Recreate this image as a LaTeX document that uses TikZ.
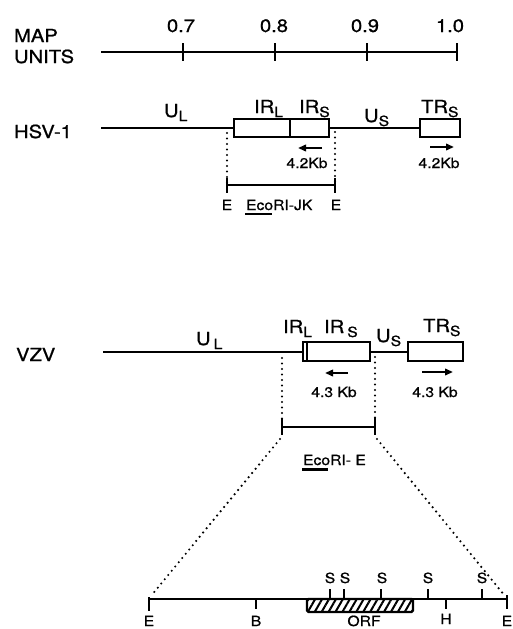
\documentclass[tikz,border=0pt]{standalone}
\usepackage{fontspec}
\setmainfont{TeX Gyre Heros}[FakeStretch=1.12, FakeBold=0.9]
\usetikzlibrary{arrows.meta,patterns.meta}
\newcommand{\lowsub}[1]{\raisebox{-4pt}{\fontsize{14}{14}\selectfont #1}}

\begin{document}
\begin{tikzpicture}[x=1pt, y=-1pt, line width=2.2pt,
    big/.style={font=\fontsize{18}{21}\selectfont, inner sep=0pt, anchor=base west},
    sml/.style={font=\fontsize{14}{16}\selectfont, inner sep=0pt, anchor=base},
    dotrule/.style={line width=2.4pt, dash pattern=on 0pt off 5.5pt, line cap=round},
    kb/.style={-{Triangle[length=8pt,width=6.5pt]}, line width=2.2pt}]
  \useasboundingbox (0,0) rectangle (512,629);

  % Thang map units
  \node[big] (map) at (13,42) {MAP};
  \node[big] (units) at (13,63) {UNITS};
  \coordinate (s0) at (101,52);
  \coordinate (s1) at (457,52);
  \draw (s0) -- (s1);
  \foreach \x/\lx/\v [count=\i] in {183/181/0.7, 275/274/0.8, 367/365/0.9, 457/450/1.0} {
    \draw (\x,43) -- (\x,61);
    \node[big, anchor=base] (tick\i) at (\lx,32) {\v};
  }

  % HSV-1
  \node[big] (hsv) at (13,138) {HSV-1};
  \draw (101,128) -- (234,128);
  \draw (234,119) rectangle (329,137);
  \draw (290,119) -- (290,137);
  \draw (329,128) -- (420,128);
  \draw (420,119) rectangle (460,137);
  \node[big] (hUL) at (163,117) {U\lowsub{L}};
  \node[big] (hIRL) at (253,113) {IR\lowsub{L}};
  \node[big] (hIRS) at (298,113) {IR\lowsub{S}};
  \node[big] (hUS) at (363,122) {U\lowsub{S}};
  \node[big] (hTRS) at (420,113) {TR\lowsub{S}};
  \draw[kb] (322,148) -- (298,148);
  \draw[kb] (430,147) -- (454,147);
  \node[sml] (hkbA) at (307,168) {4.2Kb};
  \node[sml] (hkbB) at (439,168) {4.2Kb};

  % Doan EcoRI-JK
  \coordinate (hE1) at (227,185);
  \coordinate (hE2) at (335,185);
  \draw[dotrule] (227,133) -- (hE1);
  \draw[dotrule] (335,132) -- (hE2);
  \draw (hE1) -- (hE2);
  \draw (227,178) -- (227,193);
  \draw (335,178) -- (335,193);
  \node[sml] (hEa) at (227,210) {E};
  \node[sml] (hEb) at (336,210) {E};
  \node[sml, anchor=base west] (hjk) at (245,210) {EcoRI-JK};
  \draw (245,214) -- (272,214);

  % VZV
  \node[big] (vzv) at (15,361) {VZV};
  \draw (103,352) -- (303,352);
  \draw (303,342) rectangle (370,361);
  \draw (307,342) -- (307,361);
  \draw (370,352) -- (408,352);
  \draw (408,342) rectangle (463,361);
  \node[big] (vUL) at (195,345) {U\,\lowsub{L}};
  \node[big] (vIRL) at (282,333) {IR\lowsub{L}};
  \node[big] (vIRS) at (323,333) {IR\,\lowsub{S}};
  \node[big] (vUS) at (375,342) {U\lowsub{S}};
  \node[big] (vTRS) at (422,332) {TR\lowsub{S}};
  \draw[kb] (348,373) -- (325,373);
  \draw[kb] (422,372) -- (453,372);
  \node[sml] (vkbA) at (334,397) {4.3 Kb};
  \node[sml] (vkbB) at (435,397) {4.3 Kb};

  % Doan EcoRI-E
  \coordinate (vE1) at (282,427);
  \coordinate (vE2) at (375,427);
  \draw[dotrule] (282,358) -- (vE1);
  \draw[dotrule] (375,357) -- (vE2);
  \draw (vE1) -- (vE2);
  \draw (282,418) -- (282,435);
  \draw (375,418) -- (375,435);
  \node[sml, anchor=base west] (ve) at (302,465) {EcoRI- E};
  \draw (302,469.5) -- (328,469.5);

  % Phong to doan E
  \coordinate (bL) at (149,599);
  \coordinate (bR) at (507,599);
  \draw[dotrule] (280,439) -- (151,596);
  \draw[dotrule] (377,439) -- (505,596);
  \draw[pattern={Lines[angle=60, distance=6pt, line width=2pt]}, rounded corners=1.5pt]
    (307,599) rectangle (413,612);
  \draw (bL) -- (bR);
  \draw (149,597) -- (149,611);
  \draw (507,595) -- (507,609);
  \foreach \x in {256,446} \draw (\x,599) -- (\x,609);
  \foreach \x/\lx [count=\i] in {330/330, 344/345, 381/382, 428/428, 482/482} {
    \draw (\x,589) -- (\x,599);
    \node[sml] (site\i) at (\lx,583) {S};
  }
  \node[sml] (eL) at (149,626) {E};
  \node[sml] (bam) at (256,626) {B};
  \node[sml] (orf) at (364,626) {ORF};
  \node[sml] (hin) at (446,624) {H};
  \node[sml] (eR) at (507,626) {E};
\end{tikzpicture}
\end{document}
